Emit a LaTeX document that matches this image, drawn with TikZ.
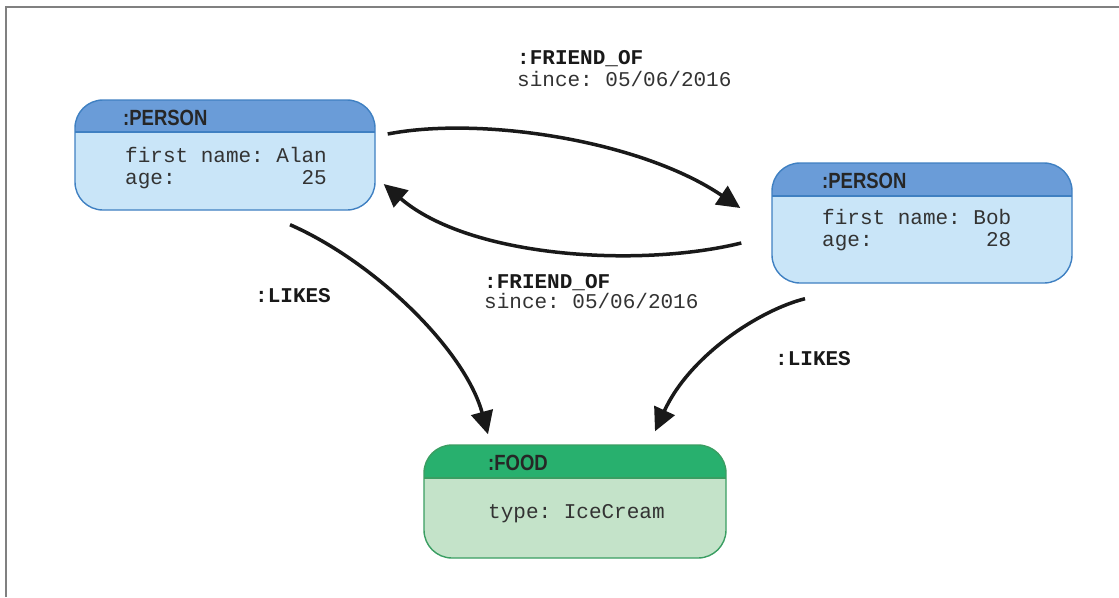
\documentclass[tikz,border=0pt]{standalone}
\usepackage{fontspec}
\setmainfont{Liberation Sans}
\setmonofont{Liberation Mono}
\newfontfamily\hdrfont[FakeStretch=0.84]{Liberation Sans}
\usetikzlibrary{arrows.meta}
\definecolor{hdrblue}{HTML}{6A9CD8}
\definecolor{bodyblue}{HTML}{C9E5F8}
\definecolor{edgeblue}{HTML}{3F80C2}
\definecolor{hdrgreen}{HTML}{28B06E}
\definecolor{bodygreen}{HTML}{C4E3C9}
\definecolor{edgegreen}{HTML}{3A9E62}
\definecolor{framegray}{HTML}{808080}
\definecolor{txtgray}{HTML}{333333}
\begin{document}
\begin{tikzpicture}[x=1pt,y=-1pt,
  hdrtxt/.style={anchor=base west, inner sep=0pt, font=\hdrfont\bfseries\fontsize{22}{24}\selectfont, text=black!85},
  proptxt/.style={anchor=base west, inner sep=0pt, font=\fontsize{21}{25}\selectfont\ttfamily, text=txtgray},
  reltxt/.style={anchor=base west, inner sep=0pt, font=\fontsize{21}{25}\selectfont\ttfamily\bfseries, text=black!90},
  rel/.style={line width=3.5pt, draw=black!90, -{Triangle[length=23pt,width=22pt]}}
]
\useasboundingbox (0,0) rectangle (1119,597);
\fill[white] (0,0) rectangle (1119,597);
\draw[framegray, line width=2pt] (6,597) -- (6,7) -- (1119,7);

% boxes
\begin{scope}[rounded corners=28pt, line width=1.4pt]
\node[minimum width=300pt, minimum height=110pt, inner sep=0pt, draw=edgeblue, fill=bodyblue,
  path picture={\fill[hdrblue,sharp corners] (path picture bounding box.north west) rectangle ([yshift=-32pt]path picture bounding box.north east);
  \draw[edgeblue,sharp corners,line width=1.4pt] ([yshift=-32pt]path picture bounding box.north west) -- ([yshift=-32pt]path picture bounding box.north east);}]
  (alan) at (225,155) {};
\node[minimum width=300pt, minimum height=120pt, inner sep=0pt, draw=edgeblue, fill=bodyblue,
  path picture={\fill[hdrblue,sharp corners] (path picture bounding box.north west) rectangle ([yshift=-33pt]path picture bounding box.north east);
  \draw[edgeblue,sharp corners,line width=1.4pt] ([yshift=-33pt]path picture bounding box.north west) -- ([yshift=-33pt]path picture bounding box.north east);}]
  (bob) at (922,223) {};
\node[minimum width=302pt, minimum height=113pt, inner sep=0pt, draw=edgegreen, fill=bodygreen,
  path picture={\fill[hdrgreen,sharp corners] (path picture bounding box.north west) rectangle ([yshift=-33pt]path picture bounding box.north east);
  \draw[edgegreen,sharp corners,line width=1.4pt] ([yshift=-33pt]path picture bounding box.north west) -- ([yshift=-33pt]path picture bounding box.north east);}]
  (food) at (575,501.5) {};
\end{scope}

% box texts
\node[hdrtxt] (alanh) at (123,125) {:PERSON};
\node[proptxt] (alan1) at (125,162) {first name: Alan};
\node[proptxt] (alan2) at (125,184) {age:~~~~~~~~~~25};
\node[hdrtxt] (bobh) at (822,188) {:PERSON};
\node[proptxt] (bob1) at (822,224) {first name: Bob};
\node[proptxt] (bob2) at (822,246) {age:~~~~~~~~~28};
\node[hdrtxt] (foodh) at (488,470) {:FOOD};
\node[proptxt] (food1) at (488,518) {type: IceCream};

% connectors
\draw[rel] ([shift={(12,-21)}]alan.east) .. controls (480,116) and (640,140) .. ([shift={(-31,-15)}]bob.west);
\draw[rel] ([shift={(-30,20)}]bob.west) .. controls (640,268) and (470,258) .. ([shift={(8,29)}]alan.east);
\draw[rel] ([shift={(65,14)}]alan.south) .. controls (375,262) and (465,350) .. ([shift={(-87,-10)}]food.north);
\draw[rel] ([shift={(-117,15)}]bob.south) .. controls (760,310) and (690,355) .. ([shift={(80,-13)}]food.north);

% labels
\node[reltxt] (f1a) at (517,64) {:FRIEND\_OF};
\node[proptxt] (f1b) at (517,86) {since: 05/06/2016};
\node[reltxt] (f2a) at (484,288) {:FRIEND\_OF};
\node[proptxt] (f2b) at (484,308) {since: 05/06/2016};
\node[reltxt] (l1) at (255,302) {:LIKES};
\node[reltxt] (l2) at (775,365) {:LIKES};
\end{tikzpicture}
\end{document}
